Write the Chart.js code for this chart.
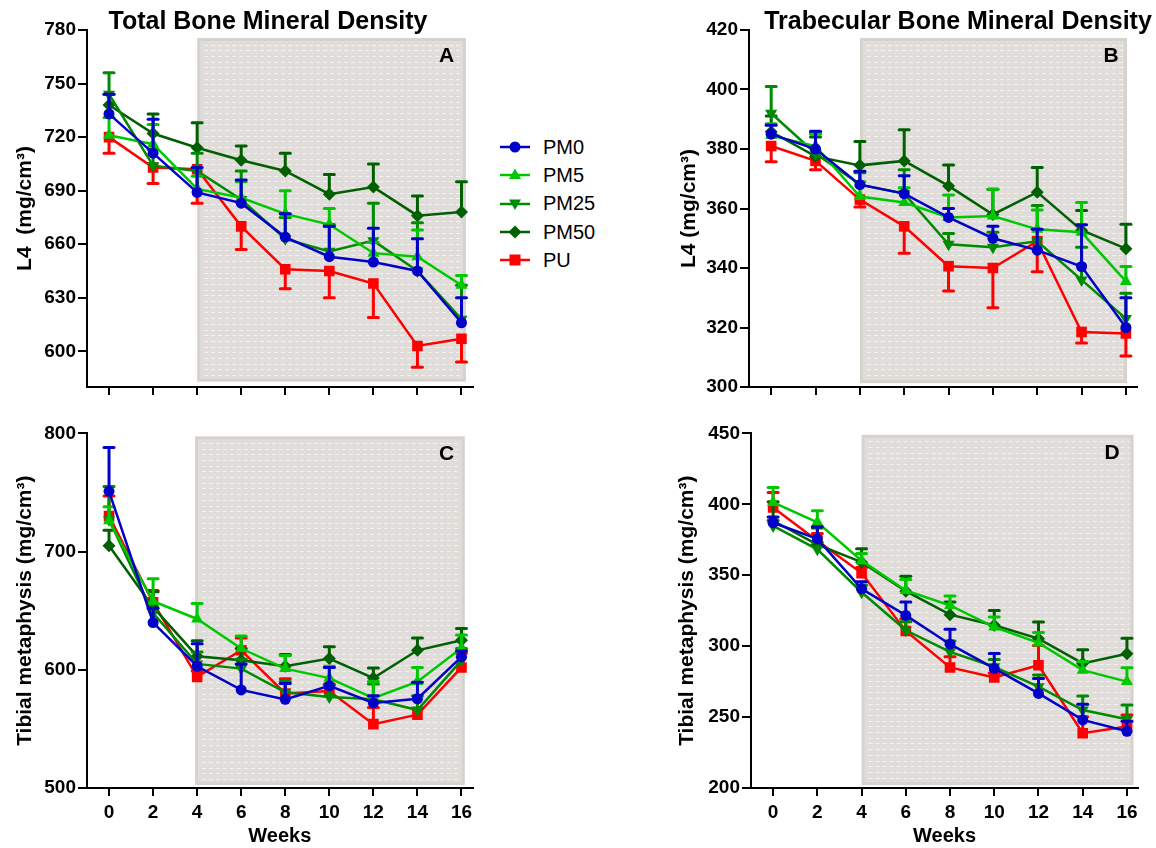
<!DOCTYPE html>
<html>
<head>
<meta charset="utf-8">
<script src="https://cdn.jsdelivr.net/npm/chart.js@4.4.1/dist/chart.umd.min.js"></script>
<style>
  html, body { margin: 0; padding: 0; background: #fff; }
  body { width: 1156px; height: 848px; position: relative; overflow: hidden; font-family: Arial, "Liberation Sans", sans-serif; }
  canvas { position: absolute; }
  #legend { position: absolute; left: 500px; top: 133px; }
  .row { height: 28.3px; display: flex; align-items: center; font-size: 20px; color: #000; }
  .row svg { margin-right: 13px; }
</style>
</head>
<body>
<canvas id="chartA" width="480" height="420" style="left:0;top:0"></canvas>
<canvas id="chartB" width="496" height="420" style="left:660px;top:0"></canvas>
<canvas id="chartC" width="480" height="428" style="left:0;top:420px"></canvas>
<canvas id="chartD" width="496" height="428" style="left:660px;top:420px"></canvas>
<div id="legend"></div>
<script>
const weeks = [0, 2, 4, 6, 8, 10, 12, 14, 16];
const weekTicks = [0, 2, 4, 6, 8, 10, 12, 14, 16];
const seriesNames = ["PM0", "PM5", "PM25", "PM50", "PU"];
const seriesColors = ["#0000c8", "#00c800", "#008a00", "#006000", "#ff0000"];
const seriesShapes = ["circle", "triangle", "triangle", "rectRot", "rect"];
const seriesRotation = [0, 0, 180, 0, 0];
const seriesRadius = [5.5, 7, 7, 6.5, 7.5];

// A: total BMD, L4 (mg/cm3). SEM is signed: negative = bar drawn below the mean
const totalL4PM0 = [733, 711, 689, 683, 664, 653, 650, 645, 616];
const totalL4PM0Sem = [11, 19, 14, 13, 13, 17, 19, 18, 14];
const totalL4PM5 = [721, 716, 691, 686, 677, 671, 655, 653, 637];
const totalL4PM5Sem = [10, 11, 7, 9, 13, 9, 6, 15, 5.5];
const totalL4PM25 = [744, 704, 701, 685, 663, 656, 662, 645, 618];
const totalL4PM25Sem = [12, 9, 10, 16, 12, 15, 21, 27, 19];
const totalL4PM50 = [738, 722, 714, 707, 701, 688, 692, 676, 678];
const totalL4PM50Sem = [6, 11, 14, 8, 10, 11, 13, 11, 17];
const totalL4PU = [720, 703, 702, 670, 646, 645, 638, 603, 607];
const totalL4PUSem = [-9, -9, -19, -13, -11, -15, -19, -12, -13];

// B: trabecular BMD, L4
const trabL4PM0 = [385, 380, 368, 365, 357, 350, 346, 340.5, 320];
const trabL4PM0Sem = [3, 6, 4.5, 6, 3, 4, 7, 14, 10];
const trabL4PM5 = [384.5, 381, 364, 362, 357, 357.5, 353, 352, 335.5];
const trabL4PM5Sem = [4, 4, 5, 5, 7.5, 9, 6.5, 10, 5];
const trabL4PM25 = [392, 378.5, 368, 365, 348, 347, 349, 336, 323];
const trabL4PM25Sem = [9, 7, 4, 8, 3.6, 5, 12, 11, 8.5];
const trabL4PM50 = [385.8, 377.5, 374.5, 376, 367.6, 358, 365.5, 352.7, 346.5];
const trabL4PM50Sem = [5.3, 6.5, 8, 10.5, 7, 8.5, 8.3, 6.6, 8.2];
const trabL4PU = [381, 376, 363, 354, 340.6, 340, 349, 318.5, 318];
const trabL4PUSem = [-5.3, -3, -2.5, -9, -8.3, -13.4, -10.3, -3.7, -7.6];

// C: total BMD, tibial metaphysis
const totalTibPM0 = [751, 640, 603, 583, 575, 586.5, 572, 575.5, 611];
const totalTibPM0Sem = [37, 12, 19, 22, 13.5, 15.5, 6, 14, 5];
const totalTibPM5 = [726, 658, 643, 618, 601, 593, 576, 590, 618.5];
const totalTibPM5Sem = [12, 19, 13, 10.5, 11, 10, 14, 12, 11];
const totalTibPM25 = [727, 648, 605, 601, 581, 577, 575, 566, 608];
const totalTibPM25Sem = [28, 8, 10, 8, 9, 10, 13, 12, 10];
const totalTibPM50 = [705, 653, 611.5, 608, 603, 609.5, 593, 616.5, 625];
const totalTibPM50Sem = [13, 13, 13, 10, 10, 10, 8.5, 10.5, 10];
const totalTibPU = [730, 657, 594, 616.5, 580, 582, 554, 562, 602];
const totalTibPUSem = [17, 10, 5, 10.5, 12.5, 6, 14, 5, 12];

// D: trabecular BMD, tibial metaphysis
const trabTibPM0 = [387, 375.6, 340.4, 321.7, 301.4, 284.3, 266.7, 248, 240];
const trabTibPM0Sem = [4, 8.6, 5, 9.4, 10.5, 10.5, 10.5, 11, 7];
const trabTibPM5 = [401.3, 387.3, 360.3, 339.3, 328.7, 313.5, 302.3, 283.1, 275];
const trabTibPM5Sem = [10.5, 8.2, 5, 7.7, 6.6, 7, 7.3, 6, 9.8];
const trabTibPM25 = [384.8, 368.3, 338, 311.2, 296, 285.4, 271.4, 255, 248.5];
const trabTibPM25Sem = [4, 5, 5, 6, 7.7, 5.2, 8.2, 9.8, 10];
const trabTibPM50 = [388.4, 371.6, 359.2, 338.8, 322.2, 314.7, 305.3, 287.8, 294.6];
const trabTibPM50Sem = [13.5, 11.7, 9.4, 10.5, 8.9, 10.5, 11.7, 9.6, 11];
const trabTibPU = [397.8, 374.4, 351.5, 310.7, 285, 278, 286.5, 238.6, 243.3];
const trabTibPUSem = [10.5, 5, 4, 8.7, 7.5, 3, 14, 11.7, 8.2];

const yTicksA = [600, 630, 660, 690, 720, 750, 780];
const yTicksB = [300, 320, 340, 360, 380, 400, 420];
const yTicksC = [500, 600, 700, 800];
const yTicksD = [200, 250, 300, 350, 400, 450];

const fontFamily = 'Arial, "Liberation Sans", sans-serif';
Chart.defaults.font.family = fontFamily;
Chart.defaults.color = "#000";

// shaded treatment window, dotted with white dashes, plus error bars, title and panel letter
const panelDecor = {
  id: "panelDecor",
  beforeDatasetsDraw(chart, args, opts) {
    const { ctx, scales: { x, y } } = chart;
    const x0 = x.getPixelForValue(opts.shadeX[0]);
    const x1 = x.getPixelForValue(opts.shadeX[1]);
    const y0 = y.getPixelForValue(opts.shadeY[1]);
    const y1 = y.getPixelForValue(opts.shadeY[0]);
    ctx.save();
    ctx.fillStyle = "#d5d3cc";
    ctx.fillRect(x0, y0, x1 - x0, y1 - y0);
    ctx.fillStyle = "#dfdcda";
    ctx.fillRect(x0 + 3, y0 + 3, x1 - x0 - 6, y1 - y0 - 6);
    ctx.strokeStyle = "#f3f2f1";
    ctx.lineWidth = 1;
    ctx.setLineDash([4, 3]);
    for (let yy = y0 + 6.5; yy < y1 - 3; yy += 5.7) {
      ctx.beginPath();
      ctx.moveTo(x0 + 7, Math.round(yy) + 0.5);
      ctx.lineTo(x1 - 4, Math.round(yy) + 0.5);
      ctx.stroke();
    }
    ctx.restore();
  },
  beforeDatasetDraw(chart, args) {
    const ds = chart.data.datasets[args.index];
    const { ctx, scales: { x, y } } = chart;
    ctx.save();
    ctx.strokeStyle = ds.borderColor;
    ctx.lineWidth = 3;
    ds.data.forEach((p, i) => {
      const px = x.getPixelForValue(p.x);
      const py0 = y.getPixelForValue(p.y);
      const py1 = y.getPixelForValue(p.y + ds.sem[i]);
      ctx.lineCap = "butt";
      ctx.beginPath();
      ctx.moveTo(px, py0);
      ctx.lineTo(px, py1);
      ctx.stroke();
      ctx.lineCap = "round";
      ctx.beginPath();
      ctx.moveTo(px - 5, py1);
      ctx.lineTo(px + 5, py1);
      ctx.stroke();
    });
    ctx.restore();
  },
  afterDraw(chart, args, opts) {
    const { ctx, chartArea, scales: { y } } = chart;
    ctx.save();
    ctx.fillStyle = "#000";
    ctx.textBaseline = "middle";
    if (opts.title) {
      ctx.font = "bold 25px " + fontFamily;
      ctx.textAlign = "center";
      ctx.fillText(opts.title, opts.titleX, 22);
    }
    ctx.font = "bold 21px " + fontFamily;
    ctx.textAlign = "center";
    ctx.fillText(opts.letter, chartArea.right - 26, y.getPixelForValue(opts.shadeY[1]) + 18);
    ctx.restore();
  }
};

const makePanel = (id, cfg) => {
  const datasets = seriesNames.map((name, i) => ({
    label: name,
    data: weeks.map((w, j) => ({ x: w, y: cfg.means[i][j] })),
    sem: cfg.sems[i],
    borderColor: seriesColors[i],
    backgroundColor: seriesColors[i],
    borderWidth: 2.5,
    pointStyle: seriesShapes[i],
    pointRotation: seriesRotation[i],
    pointRadius: seriesRadius[i],
    pointBorderWidth: 0,
    tension: 0,
    fill: false
  }));

  return new Chart(document.getElementById(id), {
    type: "line",
    data: { datasets },
    plugins: [panelDecor],
    options: {
      responsive: false,
      animation: false,
      events: [],
      layout: { padding: { left: 0, top: cfg.padTop, right: cfg.padRight, bottom: 0 } },
      plugins: {
        legend: { display: false },
        tooltip: { enabled: false },
        panelDecor: {
          title: cfg.title,
          titleX: cfg.titleX,
          letter: cfg.letter,
          shadeX: cfg.shadeX,
          shadeY: cfg.shadeY
        }
      },
      scales: {
        x: {
          type: "linear",
          min: -1,
          max: 16.5,
          afterBuildTicks: (s) => { s.ticks = weekTicks.map(v => ({ value: v })); },
          afterFit: (s) => { s.height = cfg.xHeight; },
          grid: { drawOnChartArea: false, drawTicks: true, tickLength: 8, tickWidth: 2, tickColor: "#000", lineWidth: 2, color: "#000" },
          border: { display: true, color: "#000", width: 2 },
          ticks: { display: cfg.showWeeks, color: "#000", padding: 5, maxRotation: 0, font: { size: 19, weight: "bold" } },
          title: { display: cfg.showWeeks, text: "Weeks", color: "#000", font: { size: 20, weight: "bold" }, padding: { top: 0, bottom: 0 } }
        },
        y: {
          type: "linear",
          min: cfg.yMin,
          max: cfg.yMax,
          afterBuildTicks: (s) => { s.ticks = cfg.yTicks.map(v => ({ value: v })); },
          afterFit: (s) => { s.width = cfg.yWidth; },
          grid: { drawOnChartArea: false, drawTicks: true, tickLength: 9, tickWidth: 2, tickColor: "#000", lineWidth: 2, color: "#000" },
          border: { display: true, color: "#000", width: 2 },
          ticks: { color: "#000", padding: 2, font: { size: 19, weight: "bold" } },
          title: { display: true, text: cfg.yTitle, color: "#000", font: { size: 21, weight: "bold" }, padding: { top: cfg.yTitlePad, bottom: 0 } }
        }
      }
    }
  });
};

makePanel("chartA", {
  means: [totalL4PM0, totalL4PM5, totalL4PM25, totalL4PM50, totalL4PU],
  sems: [totalL4PM0Sem, totalL4PM5Sem, totalL4PM25Sem, totalL4PM50Sem, totalL4PUSem],
  yMin: 580, yMax: 780, yTicks: yTicksA, yTitle: "L4  (mg/cm³)", yTitlePad: 13,
  yWidth: 87, padTop: 30, padRight: 7, xHeight: 33, showWeeks: false,
  title: "Total Bone Mineral Density", titleX: 268, letter: "A",
  shadeX: [4, 16.2], shadeY: [583, 775.5]
});

makePanel("chartB", {
  means: [trabL4PM0, trabL4PM5, trabL4PM25, trabL4PM50, trabL4PU],
  sems: [trabL4PM0Sem, trabL4PM5Sem, trabL4PM25Sem, trabL4PM50Sem, trabL4PUSem],
  yMin: 300, yMax: 420, yTicks: yTicksB, yTitle: "L4 (mg/cm³)", yTitlePad: 17,
  yWidth: 89, padTop: 30, padRight: 19, xHeight: 33, showWeeks: false,
  title: "Trabecular Bone Mineral Density", titleX: 298, letter: "B",
  shadeX: [4, 16.05], shadeY: [301.3, 417.3]
});

makePanel("chartC", {
  means: [totalTibPM0, totalTibPM5, totalTibPM25, totalTibPM50, totalTibPU],
  sems: [totalTibPM0Sem, totalTibPM5Sem, totalTibPM25Sem, totalTibPM50Sem, totalTibPUSem],
  yMin: 500, yMax: 800, yTicks: yTicksC, yTitle: "Tibial metaphysis (mg/cm³)", yTitlePad: 13,
  yWidth: 87, padTop: 12, padRight: 7, xHeight: 60, showWeeks: true,
  title: "", titleX: 0, letter: "C",
  shadeX: [3.9, 16.15], shadeY: [502.5, 797.5]
});

makePanel("chartD", {
  means: [trabTibPM0, trabTibPM5, trabTibPM25, trabTibPM50, trabTibPU],
  sems: [trabTibPM0Sem, trabTibPM5Sem, trabTibPM25Sem, trabTibPM50Sem, trabTibPUSem],
  yMin: 200, yMax: 450, yTicks: yTicksD, yTitle: "Tibial metaphysis (mg/cm³)", yTitlePad: 15,
  yWidth: 91, padTop: 12, padRight: 18, xHeight: 60, showWeeks: true,
  title: "", titleX: 0, letter: "D",
  shadeX: [4, 16.3], shadeY: [202, 449]
});

// legend: line + marker icon per series
const legendIcon = (i) => {
  const c = seriesColors[i];
  const shapes = {
    circle: `<circle cx="15" cy="8" r="5.5" fill="${c}"/>`,
    triangle: seriesRotation[i] === 180
      ? `<polygon points="9,3.5 21,3.5 15,14" fill="${c}"/>`
      : `<polygon points="15,1.5 21,12 9,12" fill="${c}"/>`,
    rectRot: `<polygon points="15,1.5 21.5,8 15,14.5 8.5,8" fill="${c}"/>`,
    rect: `<rect x="9.5" y="2.5" width="11" height="11" fill="${c}"/>`
  };
  return `<svg width="30" height="16"><line x1="0" y1="8" x2="30" y2="8" stroke="${c}" stroke-width="2.5"/>${shapes[seriesShapes[i]]}</svg>`;
};
document.getElementById("legend").innerHTML = seriesNames
  .map((name, i) => `<div class="row">${legendIcon(i)}<span>${name}</span></div>`)
  .join("");
</script>
</body>
</html>
